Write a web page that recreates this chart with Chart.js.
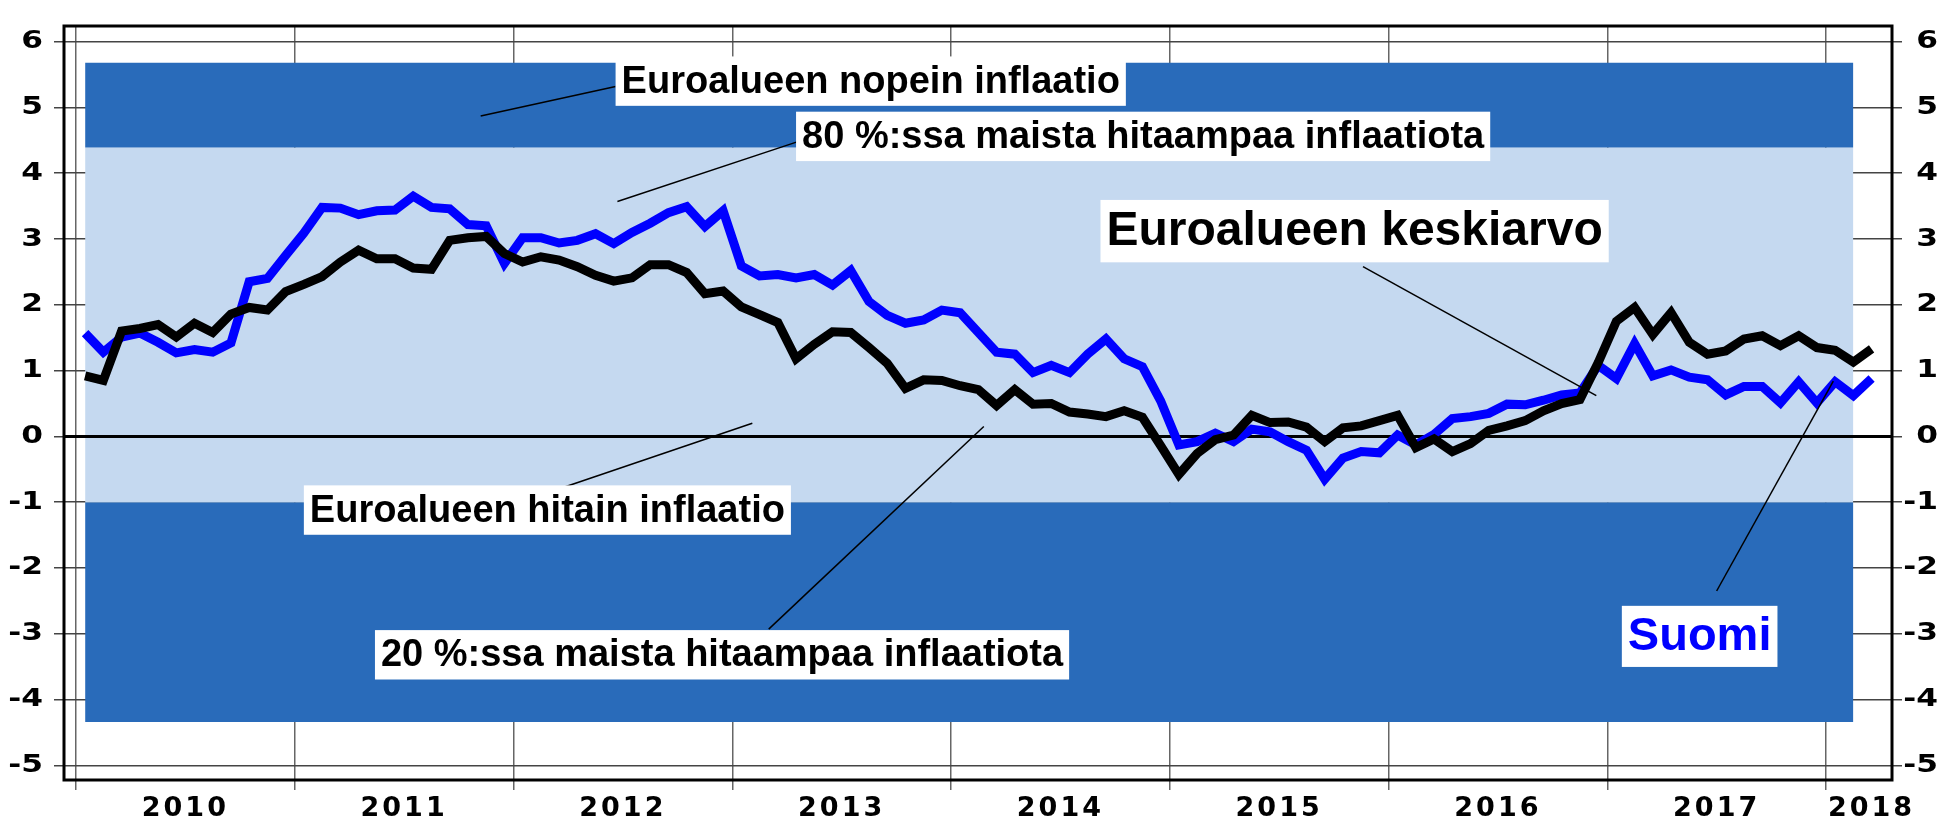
<!DOCTYPE html>
<html>
<head>
<meta charset="utf-8">
<script src="https://cdn.jsdelivr.net/npm/chart.js@4/dist/chart.umd.min.js"></script>
<style>
  html, body { margin: 0; padding: 0; background: #fff; }
  canvas { display: block; }
</style>
</head>
<body>
<canvas id="inflChart" width="1944" height="825"></canvas>
<script>
// Monthly inflation, Jan 2010 .. Mar 2018 (%)
const suomi = [
  1.57, 1.28, 1.51, 1.57, 1.43, 1.27, 1.32, 1.28, 1.42, 2.35, 2.40, 2.75,
  3.09, 3.48, 3.47, 3.37, 3.43, 3.44, 3.65, 3.48, 3.46, 3.22, 3.20, 2.63,
  3.02, 3.02, 2.94, 2.98, 3.08, 2.93, 3.10, 3.24, 3.40, 3.49, 3.19, 3.43,
  2.59, 2.44, 2.46, 2.41, 2.46, 2.30, 2.52, 2.05, 1.84, 1.72, 1.77, 1.92,
  1.88, 1.58, 1.28, 1.25, 0.97, 1.08, 0.97, 1.25, 1.48, 1.18, 1.06, 0.54,
  -0.13, -0.08, 0.05, -0.08, 0.11, 0.07, -0.08, -0.21, -0.65, -0.33, -0.23, -0.25,
  0.02, -0.13, 0.03, 0.27, 0.30, 0.35, 0.49, 0.48, 0.55, 0.63, 0.66, 1.08,
  0.88, 1.41, 0.92, 1.01, 0.90, 0.86, 0.63, 0.76, 0.76, 0.51, 0.83, 0.51,
  0.83, 0.62, 0.88
];
const euroAvg = [
  0.92, 0.85, 1.60, 1.64, 1.70, 1.51, 1.72, 1.58, 1.86, 1.96, 1.92, 2.20,
  2.31, 2.43, 2.65, 2.83, 2.70, 2.70, 2.56, 2.54, 2.98, 3.02, 3.04, 2.78,
  2.65, 2.73, 2.68, 2.58, 2.45, 2.36, 2.41, 2.61, 2.61, 2.49, 2.17, 2.21,
  1.97, 1.85, 1.73, 1.18, 1.40, 1.59, 1.58, 1.35, 1.11, 0.73, 0.86, 0.85,
  0.77, 0.71, 0.47, 0.71, 0.49, 0.50, 0.37, 0.34, 0.30, 0.39, 0.29, -0.14,
  -0.58, -0.26, -0.05, 0.02, 0.32, 0.21, 0.22, 0.14, -0.08, 0.13, 0.16, 0.24,
  0.32, -0.17, -0.04, -0.23, -0.11, 0.09, 0.16, 0.24, 0.39, 0.50, 0.56, 1.12,
  1.75, 1.96, 1.55, 1.88, 1.43, 1.25, 1.30, 1.48, 1.53, 1.38, 1.53, 1.35,
  1.31, 1.13, 1.33
];

// Band edges (top to bottom) and last month index that has band data
const bandEdges = [5.68, 4.39, -1.0, -4.34];
const bandLastMonth = 97;

// Axis ticks
const yTicks = [-5, -4, -3, -2, -1, 0, 1, 2, 3, 4, 5, 6];
const years = ['2010', '2011', '2012', '2013', '2014', '2015', '2016', '2017', '2018'];
const yearStarts = [0, 12, 24, 36, 48, 60, 72, 84, 96];
const yearLabelAt = [6, 18, 30, 42, 54, 66, 78, 90, 98.5];

// Annotation texts
const notes = [
  { text: 'Euroalueen nopein inflaatio', x: 29.6, y: 5.40, size: 38, color: '#000', from: [22.2, 4.87], to: [29.6, 5.32] },
  { text: '80 %:ssa maista hitaampaa inflaatiota', x: 39.5, y: 4.56, size: 38, color: '#000', from: [29.7, 3.57], to: [39.6, 4.48] },
  { text: 'Euroalueen keskiarvo', x: 56.2, y: 3.12, size: 48, color: '#000', from: [70.6, 2.58], to: [83.4, 0.62] },
  { text: 'Euroalueen hitain inflaatio', x: 12.5, y: -1.12, size: 38, color: '#000', from: [25.95, -0.85], to: [37.1, 0.20] },
  { text: '20 %:ssa maista hitaampaa inflaatiota', x: 16.4, y: -3.32, size: 38, color: '#000', from: [38.0, -2.93], to: [49.8, 0.15] },
  { text: 'Suomi', x: 84.8, y: -3.04, size: 47, color: '#0000FF', from: [90.0, -2.35], to: [96.4, 0.84] }
];

const toPoints = arr => arr.map((v, i) => ({ x: i + 0.5, y: v }));
const bandLine = v => [{ x: 0.5, y: v }, { x: bandLastMonth + 0.5, y: v }];

// x-axis with spaced year labels
class SpacedLinearScale extends Chart.LinearScale {
  drawLabels(area) {
    this.ctx.save();
    this.ctx.letterSpacing = '3px';
    super.drawLabels(area);
    this.ctx.restore();
  }
}
SpacedLinearScale.id = 'spacedLinear';
SpacedLinearScale.defaults = Chart.LinearScale.defaults;

// y-axes with wide (horizontally stretched) labels, anchored at their right edge
class WideLinearScale extends Chart.LinearScale {
  drawLabels(area) {
    const o = this.options;
    const anchor = this.position === 'left'
      ? this.right - o.grid.tickLength - o.ticks.padding
      : this.right;
    this.ctx.save();
    this.ctx.translate(anchor, 0);
    this.ctx.scale(1.25, 1);
    this.ctx.translate(-anchor, 0);
    super.drawLabels(area);
    this.ctx.restore();
  }
}
WideLinearScale.id = 'wideLinear';
WideLinearScale.defaults = Chart.LinearScale.defaults;
Chart.register(SpacedLinearScale, WideLinearScale);

const zeroLinePlugin = {
  id: 'zeroLine',
  afterDatasetDraw(chart, args) {
    if (args.index !== 2) return; // after the bands
    const { ctx, chartArea } = chart;
    const y = chart.scales.y.getPixelForValue(0);
    ctx.save();
    ctx.strokeStyle = '#000';
    ctx.lineWidth = 3;
    ctx.beginPath();
    ctx.moveTo(chartArea.left, y);
    ctx.lineTo(chartArea.right, y);
    ctx.stroke();
    ctx.restore();
  }
};

const notesPlugin = {
  id: 'notes',
  afterDatasetsDraw(chart) {
    const { ctx } = chart;
    const sx = chart.scales.x, sy = chart.scales.y;
    ctx.save();
    notes.forEach(n => {
      // leader line
      ctx.strokeStyle = '#000';
      ctx.lineWidth = 1.5;
      ctx.beginPath();
      ctx.moveTo(sx.getPixelForValue(n.from[0]), sy.getPixelForValue(n.from[1]));
      ctx.lineTo(sx.getPixelForValue(n.to[0]), sy.getPixelForValue(n.to[1]));
      ctx.stroke();
      // label box
      ctx.font = 'bold ' + n.size + 'px "Liberation Sans", Arial, sans-serif';
      const w = ctx.measureText(n.text).width;
      const h = n.size * 1.3;
      const left = sx.getPixelForValue(n.x);
      const cy = sy.getPixelForValue(n.y);
      ctx.fillStyle = '#fff';
      ctx.fillRect(left, cy - h / 2, w + 12, h);
      ctx.fillStyle = n.color;
      ctx.textBaseline = 'middle';
      ctx.textAlign = 'left';
      ctx.fillText(n.text, left + 6, cy + 1);
    });
    ctx.restore();
  },
  afterDraw(chart) {
    const { ctx, chartArea } = chart;
    ctx.save();
    ctx.strokeStyle = '#000';
    ctx.lineWidth = 3;
    ctx.strokeRect(chartArea.left, chartArea.top, chartArea.right - chartArea.left, chartArea.bottom - chartArea.top);
    ctx.restore();
  }
};

const tickFont = { family: '"DejaVu Sans", sans-serif', size: 25, weight: 'bold' };

new Chart(document.getElementById('inflChart').getContext('2d'), {
  type: 'line',
  data: {
    datasets: [
      { label: 'Euroalueen keskiarvo', data: toPoints(euroAvg), borderColor: '#000', borderWidth: 9, pointRadius: 0, fill: false },
      { label: 'Suomi', data: toPoints(suomi), borderColor: '#0000FF', borderWidth: 9, pointRadius: 0, fill: false },
      { data: bandLine(bandEdges[0]), borderWidth: 0, pointRadius: 0, fill: '+1', backgroundColor: '#296BBA' },
      { data: bandLine(bandEdges[1]), borderWidth: 0, pointRadius: 0, fill: '+1', backgroundColor: '#C5D9F0' },
      { data: bandLine(bandEdges[2]), borderWidth: 0, pointRadius: 0, fill: '+1', backgroundColor: '#296BBA' },
      { data: bandLine(bandEdges[3]), borderWidth: 0, pointRadius: 0, fill: false }
    ]
  },
  options: {
    responsive: false,
    animation: false,
    devicePixelRatio: 1,
    layout: { padding: { top: 10, right: 6, left: 0, bottom: 0 } },
    plugins: { legend: { display: false }, tooltip: { enabled: false } },
    elements: { line: { tension: 0 } },
    scales: {
      x: {
        type: 'spacedLinear',
        min: -0.658,
        max: 99.62,
        afterBuildTicks: s => { s.ticks = yearStarts.concat(yearLabelAt).map(v => ({ value: v })); },
        afterFit: s => { s.height = 45; },
        border: { display: false },
        grid: {
          color: c => (c.tick && yearStarts.includes(c.tick.value)) ? '#666' : 'rgba(0,0,0,0)',
          lineWidth: 1.5,
          tickLength: 10
        },
        ticks: {
          autoSkip: false,
          maxRotation: 0,
          padding: 3,
          color: '#000',
          font: { family: '"DejaVu Sans", sans-serif', size: 27, weight: 'bold' },
          callback: v => {
            const k = yearLabelAt.indexOf(v);
            return k >= 0 ? years[k] : '';
          }
        }
      },
      y: {
        type: 'wideLinear',
        position: 'left',
        min: -5.223,
        max: 6.238,
        afterBuildTicks: s => { s.ticks = yTicks.map(v => ({ value: v })); },
        afterFit: s => { s.width = 64; },
        border: { display: false },
        grid: { color: '#444', lineWidth: 1.5, tickLength: 10 },
        ticks: { color: '#000', font: tickFont, padding: 11, callback: v => String(v) }
      },
      yRight: {
        type: 'wideLinear',
        position: 'right',
        min: -5.223,
        max: 6.238,
        afterBuildTicks: s => { s.ticks = yTicks.map(v => ({ value: v })); },
        afterFit: s => { s.width = 46; },
        border: { display: false },
        grid: { drawOnChartArea: false, color: '#444', lineWidth: 1.5, tickLength: 10 },
        ticks: { color: '#000', font: tickFont, padding: 6, crossAlign: 'far', callback: v => String(v) }
      }
    }
  },
  plugins: [zeroLinePlugin, notesPlugin]
});
</script>
</body>
</html>
